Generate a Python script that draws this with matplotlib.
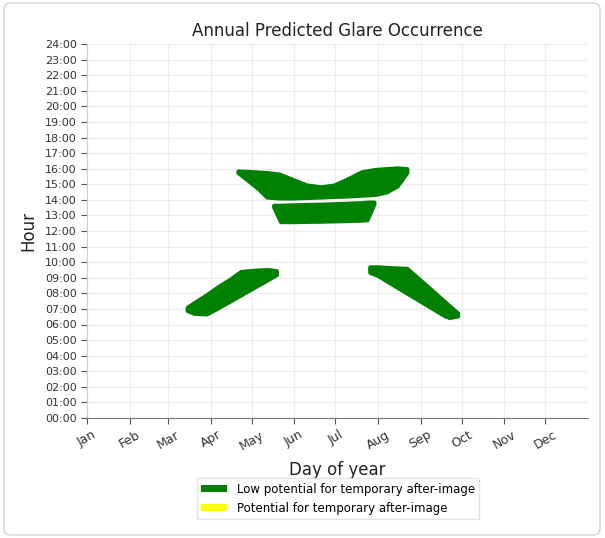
import matplotlib
matplotlib.use("Agg")
from matplotlib import pyplot as plt
from matplotlib.patches import Patch, FancyBboxPatch

# month ticks (day of year)
month_days = [0, 31, 59, 90, 120, 151, 181, 212, 243, 273, 304, 334]
month_names = ["Jan", "Feb", "Mar", "Apr", "May", "Jun",
               "Jul", "Aug", "Sep", "Oct", "Nov", "Dec"]
hours = list(range(0, 25))

# glare regions: day of year, lower / upper hour
spring_days = [73, 78, 87, 95, 105, 112, 118, 125, 132, 138]
spring_lo = [6.9, 6.72, 6.68, 7.05, 7.55, 7.9, 8.2, 8.55, 8.9, 9.2]
spring_hi = [7.1, 7.4, 7.9, 8.4, 8.95, 9.4, 9.45, 9.5, 9.52, 9.45]

summer_am_days = [206, 212, 220, 233, 240, 250, 260, 264, 270]
summer_am_lo = [9.35, 9.14, 8.71, 8.02, 7.65, 7.12, 6.59, 6.45, 6.55]
summer_am_hi = [9.7, 9.7, 9.65, 9.6, 9.06, 8.29, 7.51, 7.2, 6.74]

pm_days = [110, 118, 125, 131, 140, 150, 160, 170, 180, 190, 200, 210, 218, 226, 233]
pm_lo = [15.75, 15.2, 14.7, 14.18, 14.12, 14.12, 14.15, 14.18, 14.22, 14.25, 14.3, 14.35, 14.5, 14.9, 15.75]
pm_hi = [15.85, 15.82, 15.78, 15.75, 15.65, 15.3, 14.95, 14.83, 14.95, 15.35, 15.8, 15.95, 16.0, 16.05, 16.0]

noon_days = [136, 141, 150, 160, 170, 180, 190, 200, 204, 209]
noon_lo = [13.55, 12.6, 12.6, 12.62, 12.63, 12.65, 12.67, 12.7, 12.72, 13.75]
noon_hi = [13.65, 13.65, 13.68, 13.7, 13.72, 13.75, 13.78, 13.82, 13.85, 13.86]

green = "#008000"

fig = plt.figure(figsize=(6.05, 5.38), dpi=100)
ax = fig.add_axes([87/605, 1-418/538, (588-87)/605, (418-44)/538])

# screenshot frame
fig.patches.append(FancyBboxPatch((4/605, 3/538), 596/605, 532/538,
                                  boxstyle="round,pad=0,rounding_size=0.012",
                                  transform=fig.transFigure, facecolor="none",
                                  edgecolor="#d9d9d9", linewidth=1.2))

for d, lo, hi in [(spring_days, spring_lo, spring_hi),
                  (summer_am_days, summer_am_lo, summer_am_hi),
                  (pm_days, pm_lo, pm_hi),
                  (noon_days, noon_lo, noon_hi)]:
    ax.fill_between(d, lo, hi, facecolor=green, edgecolor=green,
                    linewidth=3, joinstyle="round", zorder=3)

ax.set_xlim(0, 365)
ax.set_ylim(0, 24)
ax.set_xticks(month_days)
ax.set_xticklabels(month_names, rotation=30, fontsize=9, color="#333333")
ax.set_yticks(hours)
ax.set_yticklabels(["%02d:00" % h for h in hours], fontsize=8, color="#333333")
ax.tick_params(direction="out", length=4, color="#555555")
ax.grid(True, color="#ececec", linewidth=0.8)
ax.set_axisbelow(True)
for s in ["top", "right"]:
    ax.spines[s].set_visible(False)
ax.spines["left"].set_color("#cccccc")
ax.spines["bottom"].set_color("#777777")

ax.set_title("Annual Predicted Glare Occurrence", fontsize=12, color="#222222", pad=6)
ax.set_xlabel("Day of year", fontsize=12, color="#222222", labelpad=6)
ax.set_ylabel("Hour", fontsize=12, color="#222222", labelpad=5)

handles = [Patch(facecolor=green, label="Low potential for temporary after-image"),
           Patch(facecolor="yellow", label="Potential for temporary after-image")]
fig.legend(handles=handles, loc="upper center", bbox_to_anchor=(338/605, 1-478/538),
           borderaxespad=0, fontsize=8.5, frameon=True, fancybox=False, edgecolor="#dddddd",
           handlelength=2.2, handleheight=0.6, borderpad=0.4, labelspacing=0.5)

plt.savefig("out.png", dpi=100)
